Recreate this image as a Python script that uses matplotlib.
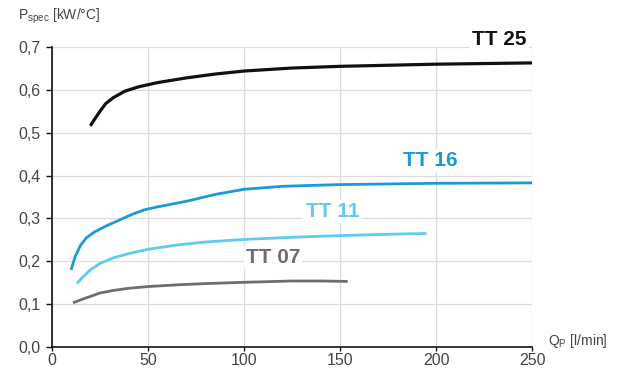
import numpy as np
import matplotlib
matplotlib.use('Agg')
import matplotlib.pyplot as plt

plt.rcParams['font.family'] = ['Liberation Sans', 'DejaVu Sans']

# curves (flow l/min, power kW/°C)
tt25_q = [20, 22, 25, 28, 32, 38, 45, 55, 70, 85, 100, 125, 150, 200, 250]
tt25_p = [0.516, 0.53, 0.55, 0.568, 0.582, 0.597, 0.607, 0.617, 0.628, 0.637, 0.644, 0.651, 0.655, 0.66, 0.663]

tt16_q = [10, 12, 15, 18, 22, 28, 35, 42, 48, 55, 70, 85, 100, 120, 150, 200, 250]
tt16_p = [0.18, 0.21, 0.238, 0.255, 0.268, 0.282, 0.296, 0.31, 0.32, 0.327, 0.34, 0.356, 0.368, 0.375, 0.379, 0.382, 0.383]

tt11_q = [13, 16, 20, 25, 32, 40, 50, 65, 80, 100, 125, 150, 175, 195]
tt11_p = [0.148, 0.163, 0.18, 0.195, 0.208, 0.218, 0.228, 0.238, 0.245, 0.251, 0.256, 0.26, 0.263, 0.265]

tt07_q = [11, 15, 20, 25, 32, 40, 50, 65, 80, 100, 125, 140, 154]
tt07_p = [0.103, 0.11, 0.118, 0.126, 0.132, 0.137, 0.141, 0.145, 0.148, 0.151, 0.154, 0.154, 0.153]

names = ['TT 25', 'TT 16', 'TT 11', 'TT 07']
colors = ['#111111', '#1c9ad6', '#5fcaf2', '#6e6e6e']
label_pos = [(233, 0.718), (197, 0.435), (146, 0.316), (115, 0.208)]

x_ticks = [0, 50, 100, 150, 200, 250]
y_ticks = [0.0, 0.1, 0.2, 0.3, 0.4, 0.5, 0.6, 0.7]

fig = plt.figure(figsize=(6.18, 3.71), dpi=100)
ax = fig.add_axes([0.084, 0.0647, 0.777, 0.8085])

series = [(tt25_q, tt25_p), (tt16_q, tt16_p), (tt11_q, tt11_p), (tt07_q, tt07_p)]
for (q, p), c, n, (lx, ly) in zip(series, colors, names, label_pos):
    ax.plot(q, p, color=c, lw=2.3 if n == 'TT 25' else 2.0,
            solid_capstyle='butt', solid_joinstyle='round', zorder=3)
    ax.text(lx, ly, n, color=c, fontsize=15, fontweight='bold',
            ha='center', va='center', zorder=4, clip_on=False,
            bbox=dict(facecolor='white', edgecolor='none', pad=1.5))

ax.set_xlim(0, 250)
ax.set_ylim(0, 0.7)
ax.set_xticks(x_ticks)
ax.set_yticks(y_ticks)
ax.set_yticklabels([f'{v:.1f}'.replace('.', ',') for v in y_ticks])
ax.grid(True, color='#dcdcdc', lw=0.9)
ax.set_axisbelow(True)
for s in ['top', 'right']:
    ax.spines[s].set_visible(False)
for s in ['left', 'bottom']:
    ax.spines[s].set_color('#111111')
    ax.spines[s].set_linewidth(1.2)
ax.tick_params(colors='#111111', labelcolor='#444444', labelsize=11.5,
               length=4, width=1, pad=4)
ax.tick_params(axis='x', length=3, pad=1.5)

fig.text(0.029, 0.955, r'P$_{\mathregular{spec}}$ [kW/°C]', fontsize=10,
         color='#444444', ha='left', va='center')
fig.text(0.887, 0.08, r'Q$_{\mathregular{P}}$ [l/min]', fontsize=10,
         color='#444444', ha='left', va='center')

fig.savefig('out.png', dpi=100)
